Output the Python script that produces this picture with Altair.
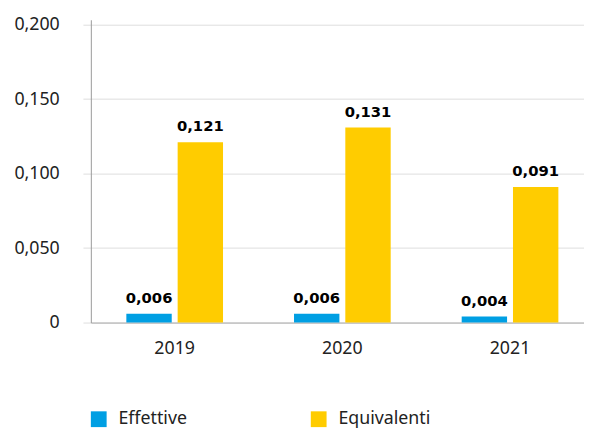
import altair as alt
import pandas as pd

years = ["2019", "2020", "2021"]
effettive = [0.006, 0.006, 0.004]
equivalenti = [0.121, 0.131, 0.091]
series = ["Effettive", "Equivalenti"]
colors = ["#009FE3", "#FFCC00"]

rows = []
for i, y in enumerate(years):
    rows.append({"anno": y, "serie": series[0], "valore": effettive[i]})
    rows.append({"anno": y, "serie": series[1], "valore": equivalenti[i]})
df = pd.DataFrame(rows)

FONT = "Noto Sans"

base = alt.Chart(df).encode(
    x=alt.X("anno:N", title=None, sort=years,
            scale=alt.Scale(paddingInner=0, paddingOuter=0, rangeMax=510),
            axis=alt.Axis(labelAngle=0, ticks=False, labelPadding=17, domainColor="#aaaaaa",
                          labelFontSize=18, labelColor="#222222", labelFont=FONT)),
    xOffset=alt.XOffset("serie:N", sort=series,
                        scale=alt.Scale(paddingInner=0.1154, paddingOuter=0.692)),
)

bars = base.mark_bar().encode(
    y=alt.Y("valore:Q", title=None,
            scale=alt.Scale(domain=[0, 0.2033], nice=False),
            axis=alt.Axis(values=[0, 0.05, 0.1, 0.15, 0.2],
                          labelExpr="datum.value == 0 ? '0' : replace(format(datum.value, '.3f'), '.', ',')",
                          labelFontSize=18, labelColor="#222222", labelFont=FONT,
                          labelPadding=24, tickSize=8, tickColor="#dddddd",
                          gridColor="#dddddd", domainColor="#999999")),
    color=alt.Color("serie:N", sort=series,
                    scale=alt.Scale(domain=series, range=colors),
                    legend=alt.Legend(title=None, orient="none", direction="horizontal",
                                      legendX=-1, legendY=396, symbolType="square",
                                      symbolSize=256, symbolStrokeWidth=0,
                                      labelFontSize=18, labelFont=FONT, labelColor="#222222",
                                      labelOffset=11, columnPadding=124)),
)

labels = base.mark_text(dy=-8, baseline="bottom", fontSize=15, fontWeight="bold",
                        font="DejaVu Sans", color="#000000").transform_calculate(
    lab="replace(format(datum.valore, '.3f'), '.', ',')"
).encode(
    y=alt.Y("valore:Q"),
    text="lab:N",
)

chart = alt.layer(bars, labels).properties(
    width=500, height=307,
    autosize=alt.AutoSizeParams(type="none"),
    padding={"left": 84, "top": 9, "right": 0, "bottom": 106},
).configure_view(stroke=None)

chart.save("out.html", embed_options={"renderer": "svg", "actions": False})
